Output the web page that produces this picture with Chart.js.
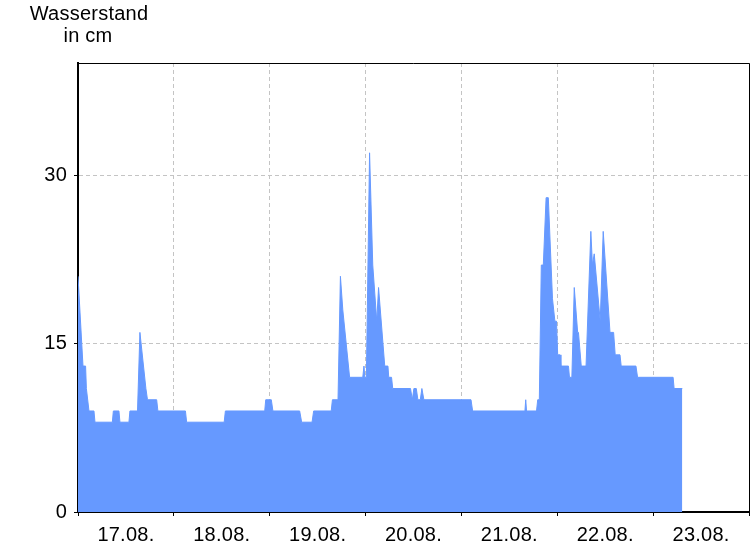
<!DOCTYPE html>
<html>
<head>
<meta charset="utf-8">
<script src="https://cdn.jsdelivr.net/npm/chart.js@4/dist/chart.umd.min.js"></script>
<style>
    html, body { margin: 0; padding: 0; background: #fff; }
    canvas { display: block; }
</style>
</head>
<body>
<canvas id="pegel" width="756" height="546"></canvas>
<script>
// Stunden ab 17.08. 00:00 und Wasserstand in cm (nur die Knickpunkte)
var hours = [0, 1.25, 1.9, 2.1, 2.2, 2.75, 4, 4.25, 8.6, 8.85, 10.25, 10.5, 12.75, 13, 14.9, 15.5, 17, 17.4, 19.7, 20,
    26.9, 27.2, 36.6, 36.9, 46.75, 47, 48.4, 48.8, 55.5, 56, 58.6, 59, 63.4, 63.7, 65.1, 65.7, 66.3, 68, 71.3, 71.6,
    71.8, 72.2, 73, 73.8, 74.8, 75.25, 76.8, 77.6, 77.8, 78.5, 78.8, 83.25, 83.7, 84.1, 84.7, 85.1, 85.7, 86.1, 86.6, 98.4,
    98.8, 111.9, 112.1, 112.3, 114.8, 115.1, 115.5, 116, 116.5, 117.2, 117.75, 118.8, 119.4, 119.8, 120.1, 120.7, 120.9, 122.8, 123.05, 123.65,
    124.25, 125.1, 125.3, 126, 127.2, 128.4, 128.8, 129.25, 130.75, 131.5, 133.2, 134.1, 134.5, 135.7, 136, 139.7, 140.1, 149,
    149.25, 151.3];
var level = [21, 13, 13, 11, 11, 9, 9, 8, 8, 9, 9, 8, 8, 9, 9, 16, 11, 10, 10, 9,
    9, 8, 8, 9, 9, 10, 10, 9, 9, 8, 8, 9, 9, 10, 10, 21, 18, 12, 12, 13,
    12, 12, 32, 22, 17, 20, 13, 13, 12, 12, 11, 11, 10, 11, 11, 10, 10, 11, 10, 10,
    9, 9, 10, 9, 9, 10, 10, 22, 22, 28, 28, 19, 17, 17, 14, 14, 13, 13, 12, 12,
    20, 16, 16, 13, 13, 25, 22, 23, 17, 25, 16, 16, 14, 14, 13, 13, 12, 12,
    11, 11];
var dayLabels = ['17.08.', '18.08.', '19.08.', '20.08.', '21.08.', '22.08.', '23.08.'];
var yTicks = [0, 15, 30];

var Pegel = {
    font: { family: 'Liberation Sans, Arial, sans-serif', size: 20 },
    gridColor: '#c4c4c4',
    init: function () {
        Chart.defaults.font.family = Pegel.font.family;
        Pegel.buildChart();
    },
    points: function () {
        let pts = [];
        for (let i = 0; i < hours.length; i++) {
            pts.push({ x: hours[i], y: level[i] });
        }
        return pts;
    },
    // Titel oben links und Rahmen oben/rechts
    decoration: {
        id: 'decoration',
        beforeDraw: function (chart) {
            chart.ctx.letterSpacing = '0.25px';
        },
        afterDraw: function (chart) {
            let ctx = chart.ctx;
            let a = chart.chartArea;
            ctx.save();
            ctx.strokeStyle = '#000';
            ctx.lineWidth = 1;
            ctx.beginPath();
            ctx.moveTo(a.left, a.top + 0.5);
            ctx.lineTo(a.right + 0.5, a.top + 0.5);
            ctx.lineTo(a.right + 0.5, a.bottom);
            ctx.stroke();

            ctx.fillStyle = '#000';
            ctx.font = '20px ' + Pegel.font.family;
            ctx.textAlign = 'center';
            ctx.textBaseline = 'alphabetic';
            ctx.fillText('Wasserstand', 89, 20);
            ctx.fillText('in cm', 88, 42);
            ctx.restore();
        }
    },
    buildChart: function () {
        let canvas = document.getElementById('pegel');
        let chart = new Chart(canvas, {
            type: 'line',
            data: {
                datasets: [{
                    data: Pegel.points(),
                    fill: 'origin',
                    backgroundColor: '#6699ff',
                    borderColor: '#6699ff',
                    borderWidth: 1,
                    pointRadius: 0,
                    tension: 0
                }]
            },
            options: {
                responsive: false,
                animation: false,
                events: [],
                layout: { padding: { top: 63, right: 5, left: 0, bottom: 0 } },
                plugins: {
                    legend: { display: false },
                    tooltip: { enabled: false }
                },
                scales: {
                    x: {
                        type: 'linear',
                        min: 0,
                        max: 168,
                        z: 1,
                        afterFit: function (scale) { scale.height = 34; },
                        ticks: {
                            stepSize: 12,
                            autoSkip: false,
                            maxRotation: 0,
                            padding: 7,
                            color: '#000',
                            font: Pegel.font,
                            callback: function (v) {
                                return v % 24 === 12 ? dayLabels[(v - 12) / 24] : '';
                            }
                        },
                        grid: {
                            color: function (c) {
                                return c.tick && c.tick.value % 24 === 0 && c.tick.value > 0 ? Pegel.gridColor : 'transparent';
                            },
                            tickColor: function (c) {
                                return c.tick && c.tick.value % 24 === 0 ? '#000' : 'transparent';
                            },
                            tickLength: 4
                        },
                        border: { color: '#000', width: 2, dash: [4, 3] }
                    },
                    y: {
                        min: 0,
                        max: 40,
                        z: 1,
                        afterFit: function (scale) { scale.width = 78; },
                        afterBuildTicks: function (scale) {
                            scale.ticks = yTicks.map(function (v) { return { value: v }; });
                        },
                        ticks: {
                            padding: 7,
                            color: '#000',
                            font: Pegel.font
                        },
                        grid: {
                            color: function (c) {
                                return c.tick && c.tick.value > 0 ? Pegel.gridColor : 'transparent';
                            },
                            tickColor: '#000',
                            tickLength: 4
                        },
                        border: { color: '#000', width: 2, dash: [4, 3] }
                    }
                }
            },
            plugins: [Pegel.decoration]
        });
    }
};

Pegel.init();
</script>
</body>
</html>
